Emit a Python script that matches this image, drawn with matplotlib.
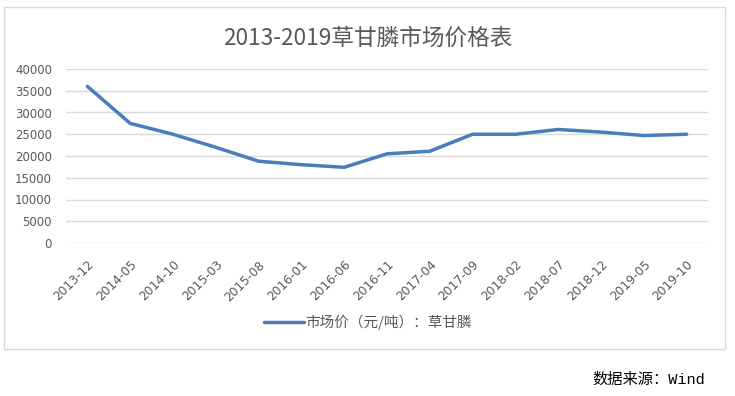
import matplotlib
matplotlib.use('agg')
import matplotlib.pyplot as plt
from matplotlib.patches import Rectangle
from matplotlib.transforms import ScaledTranslation

plt.rcParams['font.family'] = ['Noto Sans CJK SC', 'DejaVu Sans']

# données
dates = ['2013-12', '2014-05', '2014-10', '2015-03', '2015-08', '2016-01', '2016-06',
         '2016-11', '2017-04', '2017-09', '2018-02', '2018-07', '2018-12', '2019-05', '2019-10']
prix = [36000, 27500, 25000, 22000, 18800, 18000, 17400,
        20500, 21100, 25000, 25000, 26100, 25500, 24700, 25000]
yticks = [0, 5000, 10000, 15000, 20000, 25000, 30000, 35000, 40000]

grey = '#595959'

fig = plt.figure(figsize=(7.35, 3.96), dpi=100)
# cadre du graphique
fig.patches.append(Rectangle((4/735, 1-349/396), 721/735, 342/396, transform=fig.transFigure,
                             fill=False, edgecolor='#d9d9d9', linewidth=1))

ax = fig.add_axes([66/735, 1-243/396, 642/735, 174/396])
x = list(range(len(dates)))
ax.plot(x, prix, color='#4a7ebb', linewidth=2.5, solid_capstyle='round',
        label='市场价（元/吨）：草甘膦')

ax.set_xlim(-0.5, len(dates) - 0.5)
ax.set_ylim(0, 40000)
ax.set_yticks(yticks)
ax.set_yticklabels([str(v) for v in yticks], color=grey, fontsize=8.5, family='DejaVu Sans')
ax.set_xticks(x)
ax.set_xticklabels(dates, rotation=45, ha='right', rotation_mode='anchor', color=grey,
                   fontsize=8.8, family='DejaVu Sans')
decal = ScaledTranslation(5/100, 0, fig.dpi_scale_trans)
for lab in ax.get_xticklabels():
    lab.set_transform(lab.get_transform() + decal)
ax.grid(axis='y', color='#d9d9d9', linewidth=1)
ax.set_axisbelow(True)
for s in ax.spines.values():
    s.set_visible(False)
ax.tick_params(axis='y', length=0, pad=10)
ax.tick_params(axis='x', length=0, pad=11)

fig.text(0.5, 1-38/396, '2013-2019草甘膦市场价格表', ha='center', va='center', fontsize=16.3, color=grey)
fig.legend(loc='center', bbox_to_anchor=(368/735, 1-322/396),
           frameon=False, fontsize=10.5, labelcolor=grey, handlelength=2.7, handletextpad=0.1)
fig.text(705/735, 1-380/396, '数据来源：Wind', ha='right', va='center', fontsize=11,
         color='black', family=['Liberation Mono', 'Noto Sans CJK SC'])

fig.savefig('out.png', dpi=100)
